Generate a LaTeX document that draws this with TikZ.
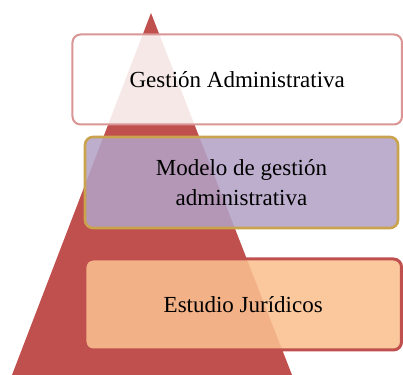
\documentclass[tikz,border=0pt]{standalone}
\usepackage{fontspec}
\setmainfont{Liberation Serif}
\definecolor{rojo}{HTML}{C0504D}
\definecolor{rosa}{HTML}{D99694}
\definecolor{oro}{HTML}{C9A34E}
\definecolor{lila}{HTML}{B3A2C7}
\definecolor{durazno}{HTML}{FAC090}
\begin{document}
\begin{tikzpicture}[x=0.5pt,y=0.5pt,
caja/.style={rounded corners=4pt,minimum height=45.5pt,align=center,
	fill opacity=0.87,text opacity=1,font=\fontsize{11.5}{15}\selectfont}]
\useasboundingbox (0,0) rectangle (403,375);
\fill[rojo] (151,362) -- (12,0) -- (292,0) -- cycle;
\node[caja,draw=rosa,line width=1pt,fill=white,minimum width=164.75pt,minimum height=45pt] (GA) at (237.25,295.5) {Gestión Administrativa};
\node[caja,draw=oro,line width=1.3pt,fill=lila,minimum width=156.5pt] (MG) at (241.5,192.5) {Modelo de gestión\\administrativa};
\node[caja,draw=rojo,line width=1.5pt,fill=durazno,minimum width=158.25pt] (EJ) at (243.25,70.5) {Estudio Jurídicos};
\end{tikzpicture}
\end{document}
